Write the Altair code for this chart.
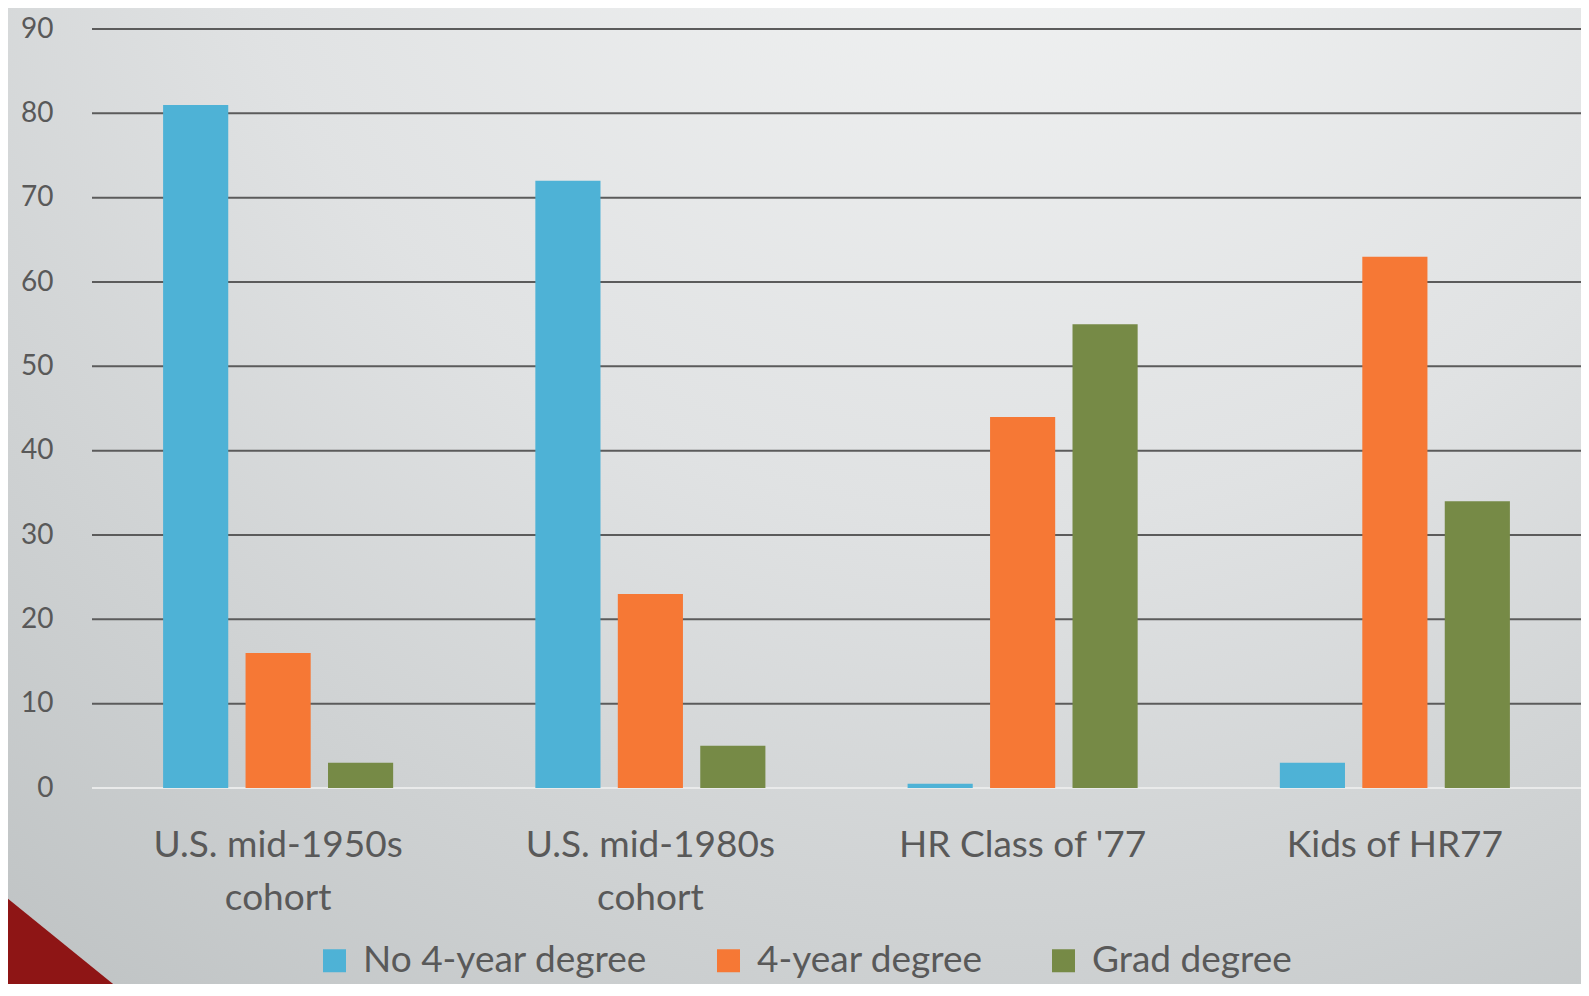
import altair as alt
import pandas as pd

categories = ["U.S. mid-1950s cohort", "U.S. mid-1980s cohort", "HR Class of '77", "Kids of HR77"]
series = ["No 4-year degree", "4-year degree", "Grad degree"]
no_degree = [81, 72, 0.5, 3]
four_year = [16, 23, 44, 63]
grad = [3, 5, 55, 34]
y_ticks = [0, 10, 20, 30, 40, 50, 60, 70, 80, 90]
colors = ["#4EB2D6", "#F67835", "#768A46"]

rows = []
for i, c in enumerate(categories):
    for s, vals in zip(series, [no_degree, four_year, grad]):
        rows.append({"cat": c, "series": s, "value": vals[i]})
df = pd.DataFrame(rows)
grid_df = pd.DataFrame({"v": y_ticks})

W, H = 1489, 759
FONT = "Lato"
TXT = "#595959"

yscale = alt.Scale(domain=[0, 90], nice=False)

bg = alt.Chart(pd.DataFrame({"a": [0]})).mark_rect(
    color=alt.RadialGradient(
        gradient="radial", x1=0.62, y1=0.0, r1=0.0, x2=0.62, y2=0.0, r2=1.0,
        stops=[alt.GradientStop(offset=0, color="#f6f7f7"),
               alt.GradientStop(offset=0.5, color="#e0e2e3"),
               alt.GradientStop(offset=1, color="#bec2c3")]
    )
).encode(x=alt.value(-100), x2=alt.value(W + 50), y=alt.value(-30), y2=alt.value(H + 250))

rules = alt.Chart(grid_df).mark_rule(strokeWidth=2).encode(
    y=alt.Y("v:Q", scale=yscale),
    color=alt.condition(alt.datum.v == 0, alt.value("#e9eaea"), alt.value("#5b5b5b")),
)

bars = alt.Chart(df).mark_bar().encode(
    x=alt.X("cat:N", sort=categories, title=None,
            scale=alt.Scale(paddingInner=0.382, paddingOuter=0.191),
            axis=alt.Axis(labelAngle=0, domain=False, ticks=False, labelPadding=39,
                          labelFontSize=37, labelFont=FONT, labelColor=TXT,
                          labelLineHeight=53, labelLimit=600, zindex=1,
                          labelExpr="indexof(datum.label, ' cohort') > 0 ? [replace(datum.label, ' cohort', ''), 'cohort'] : datum.label")),
    xOffset=alt.XOffset("series:N", sort=series, scale=alt.Scale(paddingInner=0.21)),
    y=alt.Y("value:Q", scale=yscale, title=None,
            axis=alt.Axis(values=y_ticks, grid=False, domain=False, ticks=False,
                          labelPadding=39, labelFontSize=28, labelFont=FONT,
                          labelColor=TXT, zindex=1)),
    color=alt.Color("series:N", sort=series, scale=alt.Scale(domain=series, range=colors),
                    legend=alt.Legend(title=None, orient="none", legendX=224, legendY=913,
                                      direction="horizontal", symbolType="square",
                                      symbolSize=529, symbolStrokeWidth=0, symbolOpacity=1,
                                      labelFontSize=37, labelFont=FONT, labelColor=TXT,
                                      labelOffset=10, columnPadding=62, labelLimit=600,
                                      padding=0)),
)

tri = alt.Chart(pd.DataFrame({"a": [0]})).mark_point(
    shape="M -1 -0.811 L 1 0.811 L -1 0.811 Z", filled=True, opacity=1,
    color="#8E1515", strokeWidth=0
).encode(x=alt.value(10), y=alt.value(946), size=alt.value(48400))

chart = alt.layer(bg, rules, bars, tri).properties(
    width=W, height=H,
    autosize=alt.AutoSizeParams(type="none"),
    padding={"left": 84, "top": 21, "right": 0, "bottom": 196},
).configure_view(stroke=None)

chart.save("out.html", embed_options={"renderer": "svg", "actions": False})
